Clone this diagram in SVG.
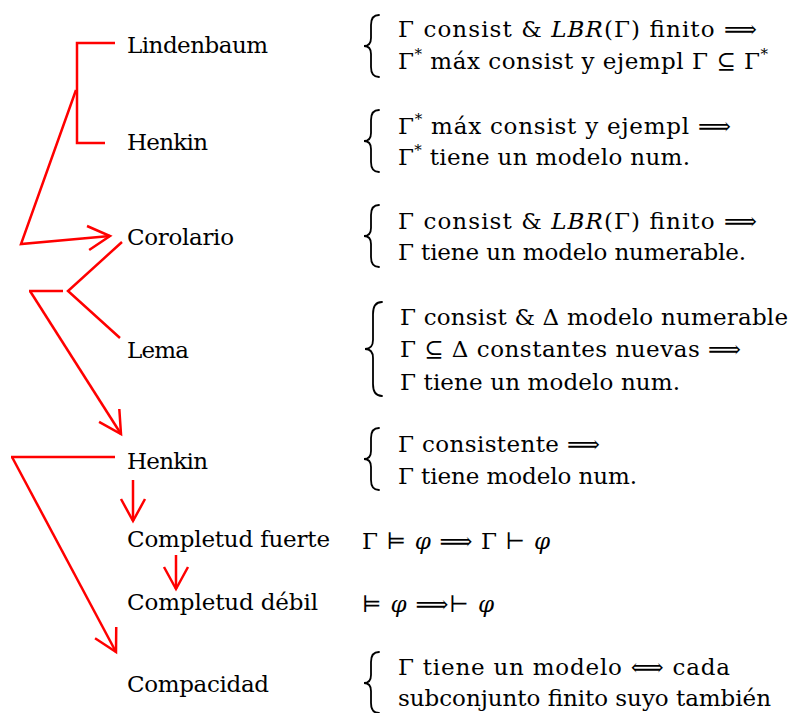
<svg xmlns="http://www.w3.org/2000/svg" width="791" height="713" viewBox="0 0 791 713">
<style>
.t{font-family:'DejaVu Serif',serif;font-size:23px;fill:#000}
.m{font-family:'DejaVu Serif','DejaVu Sans',serif}
.i{font-style:italic}
.s{font-size:15px}
.br{fill:none;stroke:#000;stroke-width:1.8;stroke-linecap:round}
.c{fill:none;stroke:#f00;stroke-width:2.5;stroke-linejoin:miter}
</style>
<defs>
<marker id="ah" markerUnits="userSpaceOnUse" orient="auto" markerWidth="40" markerHeight="40" viewBox="-30 -20 40 40" refX="0" refY="0" overflow="visible">
<path d="M-22,-12 L0,0 L-22,12" fill="none" stroke="#f00" stroke-width="2.5"/>
</marker>
</defs>
<rect width="791" height="713" fill="#fff"/>
<g id="connectors">
<polyline class="c" points="115,43 77,43 77,143 105,143"/>
<polyline class="c" points="76,90 21,244 110,236" marker-end="url(#ah)"/>
<polyline class="c" points="122,242 68,291 120,338"/>
<line class="c" x1="29" y1="291" x2="63" y2="291"/>
<line class="c" x1="30" y1="291" x2="121" y2="434" marker-end="url(#ah)"/>
<line class="c" x1="11" y1="457" x2="115" y2="457"/>
<line class="c" x1="12" y1="457" x2="116" y2="652" marker-end="url(#ah)"/>
<line class="c" x1="133" y1="480" x2="133" y2="521" marker-end="url(#ah)"/>
<line class="c" x1="176" y1="555" x2="176" y2="589" marker-end="url(#ah)"/>
</g>
<g id="lindenbaum">
<text class="t" x="127" y="53" textLength="141" lengthAdjust="spacing">Lindenbaum</text>
<path class="br" d="M379,15 Q371,15 371,25 L371,38 Q371,46 364,46 Q371,46 371,54 L371,67 Q371,77 379,77"/>
<text class="t" x="398" y="37" textLength="359" lengthAdjust="spacing">Γ consist &amp; <tspan class="i">LBR</tspan>(Γ) finito <tspan class="m">⟹</tspan></text>
<text class="t" x="398" y="69" textLength="370" lengthAdjust="spacing">Γ<tspan class="s" dy="-10">*</tspan><tspan dy="10"> máx consist y ejempl Γ </tspan><tspan class="m">⊆</tspan> Γ<tspan class="s" dy="-10">*</tspan></text>
</g>
<g id="henkin1">
<text class="t" x="127" y="150" textLength="81" lengthAdjust="spacing">Henkin</text>
<path class="br" d="M379,110 Q371,110 371,120 L371,133 Q371,141 364,141 Q371,141 371,149 L371,162 Q371,172 379,172"/>
<text class="t" x="398" y="134" textLength="333" lengthAdjust="spacing">Γ<tspan class="s" dy="-10">*</tspan><tspan dy="10"> máx consist y ejempl </tspan><tspan class="m">⟹</tspan></text>
<text class="t" x="398" y="165" textLength="292" lengthAdjust="spacing">Γ<tspan class="s" dy="-10">*</tspan><tspan dy="10"> tiene un modelo num.</tspan></text>
</g>
<g id="corolario">
<text class="t" x="127" y="245" textLength="107" lengthAdjust="spacing">Corolario</text>
<path class="br" d="M379,205 Q371,205 371,215 L371,228 Q371,236 364,236 Q371,236 371,244 L371,257 Q371,267 379,267"/>
<text class="t" x="398" y="229" textLength="359" lengthAdjust="spacing">Γ consist &amp; <tspan class="i">LBR</tspan>(Γ) finito <tspan class="m">⟹</tspan></text>
<text class="t" x="398" y="260" textLength="348" lengthAdjust="spacing">Γ tiene un modelo numerable.</text>
</g>
<g id="lema">
<text class="t" x="127" y="358" textLength="62" lengthAdjust="spacing">Lema</text>
<path class="br" d="M382,302 Q373,302 373,314 L373,340 Q373,349 365,349 Q373,349 373,358 L373,384 Q373,396 382,396"/>
<text class="t" x="400" y="325" textLength="388" lengthAdjust="spacing">Γ consist &amp; Δ modelo numerable</text>
<text class="t" x="400" y="357" textLength="341" lengthAdjust="spacing">Γ <tspan class="m">⊆</tspan> Δ constantes nuevas <tspan class="m">⟹</tspan></text>
<text class="t" x="400" y="390" textLength="280" lengthAdjust="spacing">Γ tiene un modelo num.</text>
</g>
<g id="henkin2">
<text class="t" x="127" y="469" textLength="81" lengthAdjust="spacing">Henkin</text>
<path class="br" d="M379,428 Q371,428 371,438 L371,451 Q371,459 364,459 Q371,459 371,467 L371,480 Q371,490 379,490"/>
<text class="t" x="398" y="452" textLength="202" lengthAdjust="spacing">Γ consistente <tspan class="m">⟹</tspan></text>
<text class="t" x="398" y="484" textLength="239" lengthAdjust="spacing">Γ tiene modelo num.</text>
</g>
<g id="completud-fuerte">
<text class="t" x="127" y="547" textLength="203" lengthAdjust="spacing">Completud fuerte</text>
<text class="t" x="362" y="549" textLength="188" lengthAdjust="spacing">Γ <tspan class="m">⊨</tspan> <tspan class="i">φ</tspan> <tspan class="m">⟹</tspan> Γ <tspan class="m">⊢</tspan> <tspan class="i">φ</tspan></text>
</g>
<g id="completud-debil">
<text class="t" x="127" y="610" textLength="191" lengthAdjust="spacing">Completud débil</text>
<text class="t" x="362" y="612" textLength="132" lengthAdjust="spacing"><tspan class="m">⊨</tspan> <tspan class="i">φ</tspan> <tspan class="m">⟹⊢</tspan> <tspan class="i">φ</tspan></text>
</g>
<g id="compacidad">
<text class="t" x="127" y="692" textLength="142" lengthAdjust="spacing">Compacidad</text>
<path class="br" d="M379,652 Q371,652 371,662 L371,675 Q371,683 364,683 Q371,683 371,691 L371,703 Q371,713 379,713"/>
<text class="t" x="398" y="675" textLength="332" lengthAdjust="spacing">Γ tiene un modelo <tspan class="m">⟺</tspan> cada</text>
<text class="t" x="398" y="706" textLength="373" lengthAdjust="spacing">subconjunto finito suyo también</text>
</g>
</svg>
